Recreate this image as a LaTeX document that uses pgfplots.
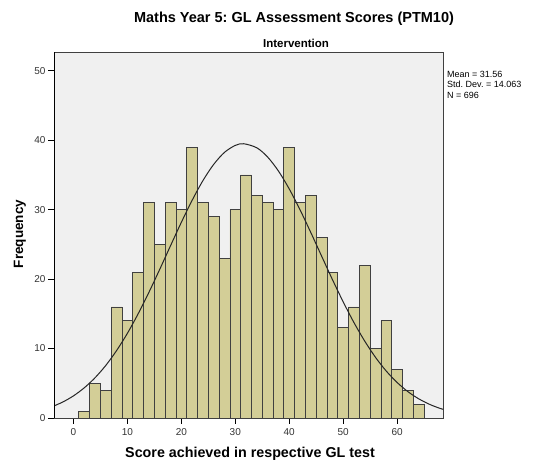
\documentclass[border=0pt]{standalone}
\usepackage{pgfplots}
\pgfplotsset{compat=1.18}
\usepackage{fontspec}
\setmainfont{Liberation Sans}
\frenchspacing
\definecolor{barfill}{HTML}{D3CE97}
\definecolor{bgfill}{HTML}{F0F0F0}
\begin{document}
\begin{tikzpicture}[x=1bp,y=1bp]
\useasboundingbox (0,0) rectangle (538,464);
\begin{axis}[
  at={(54bp,46bp)}, anchor=south west,
  scale only axis, width=389bp, height=366bp,
  xmin=-3.6, xmax=68.5, ymin=0, ymax=52.7,
  xtick={0,10,...,60}, ytick={0,10,...,50},
  xtick pos=lower, ytick pos=left,
  tick align=outside, major tick length=6bp,
  tick style={black, line width=0.8bp},
  axis background/.style={fill=bgfill},
  axis line style={black!75, line width=0.8bp},
  ticklabel style={font=\fontsize{10bp}{11bp}\selectfont, text=black!80},
  /pgf/number format/assume math mode=true,
  xticklabel style={yshift=-1bp},
  yticklabel style={xshift=1bp},
  clip=true,
]
\addplot[ybar interval, fill=barfill, draw=black!75, line width=0.7bp] coordinates {
(1,1) (3,5) (5,4) (7,16) (9,14) (11,21) (13,31) (15,25) (17,31) (19,30)
(21,39) (23,31) (25,29) (27,23) (29,30) (31,35) (33,32) (35,31) (37,30) (39,39)
(41,31) (43,32) (45,26) (47,21) (49,13) (51,16) (53,22) (55,10) (57,14) (59,7)
(61,4) (63,2) (65,2)
};
\addplot[smooth, black!85, line width=1bp] coordinates {
(-4,1.61) (-2,2.29) (0,3.18) (2,4.34) (4,5.79) (6,7.57) (8,9.71) (10,12.19)
(12,15.01) (14,18.11) (16,21.41) (18,24.81) (20,28.17) (22,31.34) (24,34.18)
(26,36.52) (28,38.25) (30,39.25) (31.56,39.49) (34,38.90) (36,37.57) (38,35.56)
(40,32.98) (42,29.98) (44,26.70) (46,23.31) (48,19.94) (50,16.72) (52,13.73)
(54,11.06) (56,8.72) (58,6.74) (60,5.11) (62,3.79) (64,2.76) (66,1.97)
(68,1.37) (70,0.94)
};
\draw[black, line width=0.8bp] (axis cs:-3.6,0) -- (axis cs:68.5,0);
\draw[black, line width=0.8bp] (axis cs:-3.6,0) -- (axis cs:-3.6,52.7);
\end{axis}
\node[font=\fontsize{14.5bp}{17bp}\selectfont\bfseries] at (294,445) {Maths Year 5: GL Assessment Scores (PTM10)};
\node[font=\fontsize{11.5bp}{13bp}\selectfont\bfseries] at (296,421) {Intervention};
\node[font=\fontsize{14.3bp}{16bp}\selectfont\bfseries] at (250,10) {Score achieved in respective GL test};
\node[font=\fontsize{13.5bp}{16bp}\selectfont\bfseries, rotate=90] at (20,230) {Frequency};
\node[anchor=north west, align=left, inner sep=0pt, font=\fontsize{9bp}{10.5bp}\selectfont] at (447,393) {Mean = 31.56\\Std. Dev. = 14.063\\N = 696};
\end{tikzpicture}
\end{document}
